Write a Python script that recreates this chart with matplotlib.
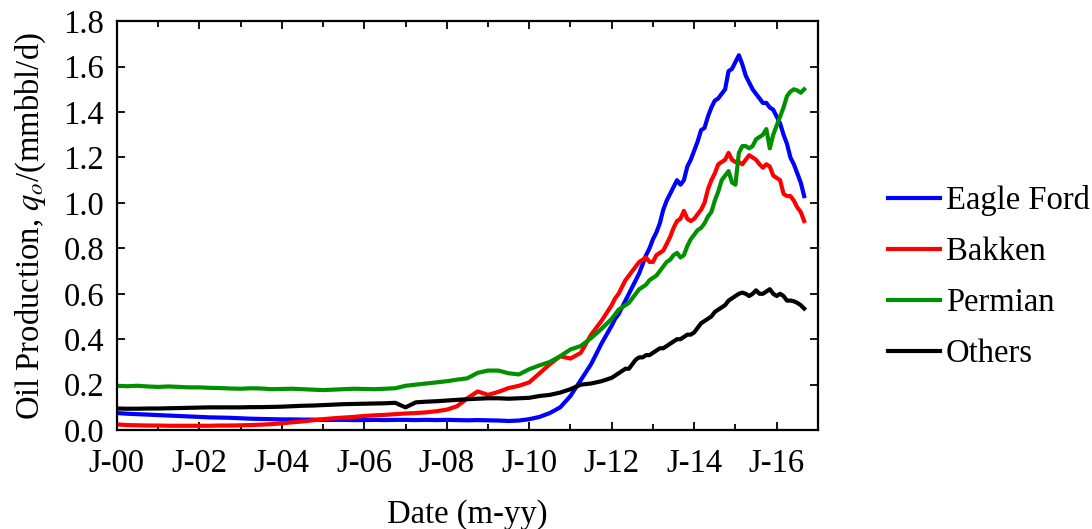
import numpy as np
import matplotlib
matplotlib.use("Agg")
import matplotlib.pyplot as plt

plt.rcParams["font.family"] = ["Liberation Serif", "DejaVu Serif"]
plt.rcParams["mathtext.fontset"] = "stix"

# quarterly points 2000.00 - 2011.75, then monthly 2012.0 - 2016.667
years_q = np.arange(2000, 2012, 0.25)
years_m = 2012 + np.arange(57) / 12.0
years = np.concatenate([years_q, years_m])

eagle_q = [
    0.075, 0.072, 0.070, 0.068, 0.066, 0.064, 0.062, 0.060,
    0.058, 0.056, 0.055, 0.054, 0.052, 0.050, 0.049, 0.048,
    0.047, 0.047, 0.046, 0.046, 0.045, 0.045, 0.045, 0.044,
    0.044, 0.045, 0.044, 0.045, 0.045, 0.044, 0.045, 0.044,
    0.045, 0.044, 0.043, 0.044, 0.043, 0.042, 0.040, 0.042,
    0.048, 0.058, 0.075, 0.100, 0.150, 0.220, 0.290, 0.380,
]
eagle_m = [
    0.46, 0.49, 0.51, 0.54, 0.57, 0.60, 0.63, 0.66, 0.69, 0.73, 0.77, 0.80,
    0.84, 0.87, 0.91, 0.97, 1.01, 1.04, 1.07, 1.10, 1.08, 1.10, 1.16, 1.19,
    1.23, 1.27, 1.32, 1.33, 1.38, 1.42, 1.45, 1.46, 1.48, 1.50, 1.58, 1.59,
    1.62, 1.65, 1.61, 1.56, 1.53, 1.50, 1.48, 1.46, 1.44, 1.44, 1.42, 1.41,
    1.38, 1.35, 1.30, 1.26, 1.20, 1.17, 1.13, 1.09, 1.03,
]

bakken_q = [
    0.025, 0.022, 0.021, 0.020, 0.020, 0.019, 0.019, 0.019,
    0.019, 0.019, 0.020, 0.020, 0.021, 0.022, 0.024, 0.026,
    0.030, 0.034, 0.038, 0.043, 0.048, 0.052, 0.055, 0.058,
    0.062, 0.065, 0.067, 0.070, 0.073, 0.075, 0.078, 0.083,
    0.090, 0.105, 0.140, 0.170, 0.155, 0.168, 0.185, 0.195,
    0.210, 0.250, 0.290, 0.325, 0.315, 0.340, 0.420, 0.480,
]
bakken_m = [
    0.55, 0.58, 0.60, 0.63, 0.66, 0.68, 0.70, 0.72, 0.74, 0.75, 0.76, 0.74,
    0.74, 0.77, 0.78, 0.79, 0.82, 0.85, 0.89, 0.92, 0.93, 0.965, 0.93, 0.92,
    0.93, 0.95, 0.97, 1.00, 1.06, 1.10, 1.13, 1.17, 1.18, 1.19, 1.22, 1.19,
    1.18, 1.18, 1.17, 1.19, 1.21, 1.20, 1.19, 1.17, 1.155, 1.17, 1.16, 1.12,
    1.11, 1.10, 1.04, 1.03, 1.03, 1.01, 0.98, 0.96, 0.92,
]

permian_q = [
    0.195, 0.193, 0.195, 0.192, 0.190, 0.192, 0.190, 0.188,
    0.188, 0.186, 0.185, 0.183, 0.182, 0.184, 0.183, 0.180,
    0.181, 0.182, 0.180, 0.178, 0.176, 0.178, 0.180, 0.182,
    0.181, 0.180, 0.182, 0.184, 0.195, 0.200, 0.205, 0.210,
    0.215, 0.222, 0.228, 0.252, 0.262, 0.262, 0.250, 0.245,
    0.268, 0.285, 0.300, 0.325, 0.355, 0.370, 0.405, 0.445,
]
permian_m = [
    0.49, 0.51, 0.53, 0.54, 0.55, 0.56, 0.58, 0.60, 0.62, 0.63, 0.64, 0.66,
    0.67, 0.68, 0.70, 0.72, 0.74, 0.75, 0.77, 0.78, 0.76, 0.77, 0.81, 0.84,
    0.86, 0.88, 0.89, 0.91, 0.94, 0.96, 1.01, 1.05, 1.10, 1.12, 1.14, 1.09,
    1.08, 1.22, 1.25, 1.25, 1.24, 1.25, 1.28, 1.29, 1.30, 1.325, 1.24, 1.30,
    1.34, 1.38, 1.42, 1.47, 1.49, 1.50, 1.495, 1.485, 1.50,
]

others_q = [
    0.095, 0.094, 0.094, 0.095, 0.095, 0.096, 0.097, 0.098,
    0.099, 0.100, 0.100, 0.100, 0.100, 0.101, 0.101, 0.102,
    0.103, 0.105, 0.107, 0.108, 0.110, 0.112, 0.114, 0.115,
    0.116, 0.117, 0.118, 0.120, 0.100, 0.122, 0.125, 0.127,
    0.130, 0.133, 0.136, 0.138, 0.140, 0.140, 0.138, 0.140,
    0.142, 0.150, 0.155, 0.165, 0.180, 0.200, 0.205, 0.215,
]
others_m = [
    0.23, 0.24, 0.25, 0.26, 0.27, 0.27, 0.29, 0.31, 0.32, 0.32, 0.33, 0.33,
    0.34, 0.35, 0.36, 0.36, 0.37, 0.38, 0.39, 0.40, 0.40, 0.41, 0.42, 0.42,
    0.43, 0.45, 0.47, 0.48, 0.49, 0.50, 0.52, 0.53, 0.54, 0.55, 0.57, 0.58,
    0.59, 0.60, 0.605, 0.60, 0.59, 0.60, 0.615, 0.60, 0.60, 0.61, 0.62, 0.60,
    0.59, 0.60, 0.59, 0.57, 0.57, 0.567, 0.56, 0.55, 0.535,
]

series = [
    ("Eagle Ford", eagle_q + eagle_m, "#0000ff"),
    ("Bakken", bakken_q + bakken_m, "#ff0000"),
    ("Permian", permian_q + permian_m, "#009000"),
    ("Others", others_q + others_m, "#000000"),
]

fs = 23.5

fig = plt.figure(figsize=(10.92, 5.29), dpi=100)
ax = fig.add_axes([0.107, 0.187, 0.642, 0.773])

for name, vals, col in series:
    ax.plot(years, vals, color=col, lw=3.0, label=name)

ax.set_xlim(2000, 2017)
ax.set_ylim(0, 1.8)
ax.set_xticks(np.arange(2000, 2017, 2))
ax.set_xticklabels([f"J-{y % 100:02d}" for y in range(2000, 2017, 2)])
ax.set_xticks(np.arange(2000, 2018, 1), minor=True)
ax.set_yticks(np.arange(0, 1.81, 0.2))
ax.set_yticklabels([f"{v:.1f}" for v in np.arange(0, 1.81, 0.2)])

ax.tick_params(which="both", direction="in", top=True, right=True,
               labelsize=fs, width=1.3)
ax.tick_params(which="major", length=6)
ax.tick_params(which="minor", length=4.5)
ax.tick_params(axis="x", which="major", pad=13)
ax.tick_params(axis="y", which="major", pad=9)
for s in ax.spines.values():
    s.set_linewidth(1.6)

ax.set_xlabel("Date (m-yy)", fontsize=fs, labelpad=15)
ax.set_ylabel("Oil Production, $q_o$/(mmbbl/d)", fontsize=fs, labelpad=11)

fig.legend(loc="center left", bbox_to_anchor=(0.786, 0.476), frameon=False,
           fontsize=fs, handlelength=1.6, handletextpad=0.18, labelspacing=0.63)

fig.savefig("out.png", dpi=100)
